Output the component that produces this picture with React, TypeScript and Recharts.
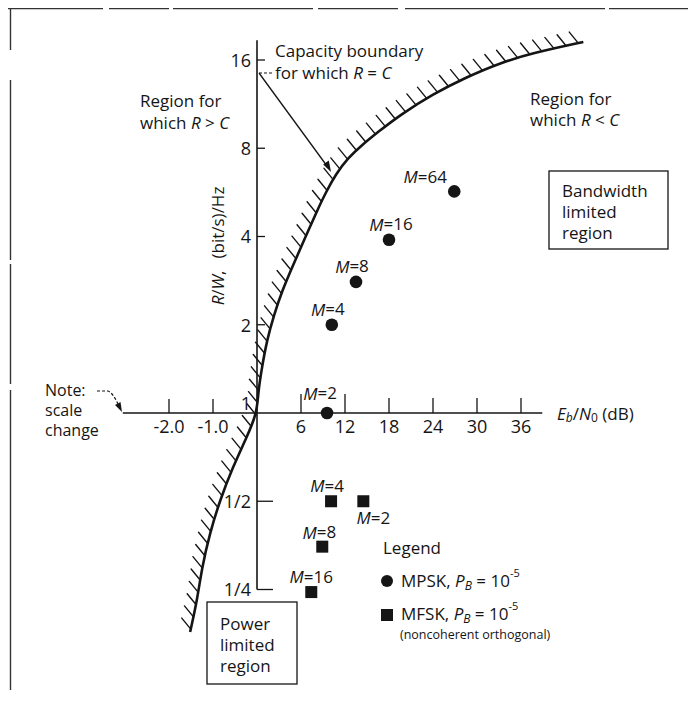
import React from 'react';
import {
  ComposedChart,
  XAxis,
  YAxis,
  Line,
  Scatter,
  ReferenceLine,
  ReferenceDot,
  Customized,
} from 'recharts';

const FONT = '"Open Sans", "Noto Sans", sans-serif';
const INK = '#151515';

// capacity boundary R = C (Eb/N0 in dB, R/W in bit/s/Hz)
const boundaryEbNo = [-1.52, -1.36, -1.25, -1.07, -0.84, -0.55, -0.23, 0, 0.14, 0.68, 1.36, 2.32, 3.41, 5.05, 6.55, 8.05, 9.41, 10.77, 12.41, 14.32, 16.5, 19.5, 24.0, 28.6, 33.1, 37.6, 44.5];
const boundaryRW = [0.179, 0.23, 0.298, 0.39, 0.505, 0.654, 0.828, 1, 1.17, 1.435, 1.774, 2.159, 2.607, 3.249, 3.953, 4.811, 5.674, 6.535, 7.411, 8.207, 9.089, 10.39, 12.25, 14.0, 15.63, 16.9, 18.43];

// MPSK, PB = 1e-5
const mpskM = [2, 4, 8, 16, 64];
const mpskEbNo = [9.55, 10.2, 13.5, 18.0, 26.9];
const mpskRW = [1, 2, 2.8, 3.9, 5.7];

// MFSK noncoherent orthogonal, PB = 1e-5
const mfskM = [2, 4, 8, 16];
const mfskEbNo = [14.5, 10.1, 8.9, 7.4];
const mfskRW = [0.5, 0.5, 0.35, 0.245];

const xTicksNeg = [-2.0, -1.0];
const xTicksPos = [6, 12, 18, 24, 30, 36];
const yTicks = [16, 8, 4, 2, 1, 0.5, 0.25];
const yTickLabels = ['16', '8', '4', '2', '1', '1/2', '1/4'];

// label placement next to each marker (px)
const mpskLabelOffset = [[-7, -20], [-4, -16], [-4, -16], [2, -16], [-29, -15]];
const mfskLabelOffset = [[10, 16], [-4, -16], [-3, -15], [0, -16]];

// scale change at 0 dB: one division = 1 dB on the left, 6 dB on the right
const toAxis = (db: number) => (db < 0 ? db * 6 : db);

const boundaryRows = boundaryEbNo.map((d, i) => ({ x: toAxis(d), y: boundaryRW[i] }));
const mpskRows = mpskEbNo.map((d, i) => ({ x: toAxis(d), y: mpskRW[i], m: mpskM[i] }));
const mfskRows = mfskEbNo.map((d, i) => ({ x: toAxis(d), y: mfskRW[i], m: mfskM[i] }));

const txt = { fontFamily: FONT, fill: INK } as const;

const collected: { x: number; y: number }[] = [];
const HATCH_STEP = 12.5;

function HatchDot(props: any) {
  const { cx, cy, index, points } = props;
  collected[index] = { x: cx, y: cy };
  if (index !== boundaryRows.length - 1) return <g key={`hd-${index}`} />;
  const pts: { x: number; y: number }[] = points && points.length ? points : collected;
  const marks: React.ReactNode[] = [];
  let t = 3;
  for (let i = 1; i < pts.length; i++) {
    const a = pts[i - 1];
    const b = pts[i];
    const seg = Math.hypot(b.x - a.x, b.y - a.y);
    while (t <= seg) {
      const x = a.x + ((b.x - a.x) * t) / seg;
      const y = a.y + ((b.y - a.y) * t) / seg;
      marks.push(<line key={marks.length} x1={x} y1={y} x2={x - 9} y2={y - 11} />);
      t += HATCH_STEP;
    }
    t -= seg;
  }
  return (
    <g key="hatches" stroke={INK} strokeWidth={1.4} strokeLinecap="round">
      {marks}
    </g>
  );
}

const mLabel = (m: number, dx: number, dy: number) => (p: any) => (
  <text x={p.cx + dx} y={p.cy + dy} textAnchor="middle" dominantBaseline="central" fontSize={17} {...txt}>
    <tspan fontStyle="italic">M</tspan>={m}
  </text>
);

const xTickShape = (label: string, h: number) => (p: any) => (
  <g>
    <line x1={p.cx} y1={p.cy} x2={p.cx} y2={p.cy - h} stroke={INK} strokeWidth={1.3} />
    <text x={p.cx} y={p.cy + 13} textAnchor="middle" dominantBaseline="central" fontSize={18} {...txt}>
      {label}
    </text>
  </g>
);

const yTickShape = (label: string, len: number, dy: number) => (p: any) => (
  <g>
    {len > 0 && <line x1={p.cx} y1={p.cy} x2={p.cx + len} y2={p.cy} stroke={INK} strokeWidth={1.3} />}
    <text x={p.cx - 6} y={p.cy + dy} textAnchor="end" dominantBaseline="central" fontSize={18} {...txt}>
      {label}
    </text>
  </g>
);

const Annotations = () => (
  <g transform="translate(-8 -8)">
    {/* scan frame */}
    <line x1={8} y1={8.5} x2={696} y2={8.5} stroke="#333" strokeWidth={1.4} strokeDasharray="95 6 60 4 140 5 80 7 200 4" />
    <line x1={10.5} y1={8} x2={10.5} y2={50} stroke="#333" strokeWidth={1.4} />
    <line x1={10.5} y1={80} x2={10.5} y2={698} stroke="#333" strokeWidth={1.4} strokeDasharray="180 4 120 6 300" />

    {/* capacity boundary callout */}
    <text x={275} y={50} dominantBaseline="central" fontSize={17} {...txt}>Capacity boundary</text>
    <text x={275} y={72} dominantBaseline="central" fontSize={17} {...txt}>
      for which <tspan fontStyle="italic">R</tspan> = <tspan fontStyle="italic">C</tspan>
    </text>
    <line x1={259} y1={73} x2={273} y2={73} stroke={INK} strokeWidth={1.2} strokeDasharray="3 2" />
    <line x1={259} y1={73} x2={327} y2={166} stroke={INK} strokeWidth={1.3} />
    <polygon points="331,172 323.2,164.6 328.8,160.6" fill={INK} />

    <text x={140} y={100} dominantBaseline="central" fontSize={17} {...txt}>Region for</text>
    <text x={140} y={122} dominantBaseline="central" fontSize={17} {...txt}>
      which <tspan fontStyle="italic">R</tspan> &gt; <tspan fontStyle="italic">C</tspan>
    </text>
    <text x={530} y={98} dominantBaseline="central" fontSize={17} {...txt}>Region for</text>
    <text x={530} y={119} dominantBaseline="central" fontSize={17} {...txt}>
      which <tspan fontStyle="italic">R</tspan> &lt; <tspan fontStyle="italic">C</tspan>
    </text>

    <rect x={549} y={171} width={119} height={78} fill="none" stroke={INK} strokeWidth={1.3} />
    <text x={562} y={190} dominantBaseline="central" fontSize={17} {...txt}>Bandwidth</text>
    <text x={562} y={211} dominantBaseline="central" fontSize={17} {...txt}>limited</text>
    <text x={562} y={232} dominantBaseline="central" fontSize={17} {...txt}>region</text>

    <rect x={207} y={602} width={90} height={82} fill="none" stroke={INK} strokeWidth={1.3} />
    <text x={220} y={623} dominantBaseline="central" fontSize={17} {...txt}>Power</text>
    <text x={220} y={644} dominantBaseline="central" fontSize={17} {...txt}>limited</text>
    <text x={220} y={665} dominantBaseline="central" fontSize={17} {...txt}>region</text>

    {/* scale-change note */}
    <text x={45} y={390} dominantBaseline="central" fontSize={16} {...txt}>Note:</text>
    <text x={45} y={410} dominantBaseline="central" fontSize={16} {...txt}>scale</text>
    <text x={45} y={430} dominantBaseline="central" fontSize={16} {...txt}>change</text>
    <path d="M97,391 L108,391 Q113,393 118,404" fill="none" stroke={INK} strokeWidth={1.2} strokeDasharray="3 2" />
    <polygon points="122,412 115,405 120.5,402" fill={INK} />

    {/* axis titles */}
    <text
      transform="translate(217 246) rotate(-90)"
      textAnchor="middle"
      dominantBaseline="central"
      fontSize={17}
      {...txt}
    >
      <tspan fontStyle="italic">R</tspan>/<tspan fontStyle="italic">W</tspan>,<tspan dx={12}>(bit/s)/Hz</tspan>
    </text>
    <text x={557} y={413} dominantBaseline="central" fontSize={17} {...txt}>
      <tspan fontStyle="italic">E</tspan>
      <tspan fontStyle="italic" fontSize={12} dy={4}>b</tspan>
      <tspan dy={-4}>/</tspan>
      <tspan fontStyle="italic">N</tspan>
      <tspan fontSize={12} dy={4}>0</tspan>
      <tspan dy={-4}> (dB)</tspan>
    </text>

    {/* legend */}
    <text x={383} y={547} dominantBaseline="central" fontSize={17} {...txt}>Legend</text>
    <circle cx={387} cy={581} r={6} fill={INK} />
    <text x={401} y={580} dominantBaseline="central" fontSize={17} {...txt}>
      MPSK, <tspan fontStyle="italic">P</tspan>
      <tspan fontStyle="italic" fontSize={12} dy={5}>B</tspan>
      <tspan dy={-5}> = 10</tspan>
      <tspan fontSize={11} dy={-8}>-5</tspan>
    </text>
    <rect x={381} y={609} width={12} height={12} fill={INK} />
    <text x={401} y={613} dominantBaseline="central" fontSize={17} {...txt}>
      MFSK, <tspan fontStyle="italic">P</tspan>
      <tspan fontStyle="italic" fontSize={12} dy={5}>B</tspan>
      <tspan dy={-5}> = 10</tspan>
      <tspan fontSize={11} dy={-8}>-5</tspan>
    </text>
    <text x={400} y={634} dominantBaseline="central" fontSize={12.5} {...txt}>(noncoherent orthogonal)</text>
  </g>
);

export default function App() {
  return (
    <div style={{ width: 680, height: 690, background: '#fff' }}>
      <ComposedChart
        width={680}
        height={690}
        margin={{ top: 7.875, right: 27.667, bottom: 20.25, left: 7 }}
      >
        <XAxis type="number" dataKey="x" domain={[-33, 55]} allowDataOverflow hide />
        <YAxis type="number" dataKey="y" scale="log" domain={[0.125, 22.627]} allowDataOverflow hide />

        {/* axes drawn through the origin */}
        <ReferenceLine segment={[{ x: toAxis(-3.05), y: 1 }, { x: 38.9, y: 1 }]} stroke={INK} strokeWidth={1.6} />
        <ReferenceLine segment={[{ x: 0, y: 0.25 }, { x: 0, y: 18.7 }]} stroke={INK} strokeWidth={1.6} />

        {xTicksNeg.map((v) => (
          <ReferenceDot key={`xn${v}`} x={toAxis(v)} y={1} r={0} ifOverflow="visible" shape={xTickShape(v.toFixed(1), 14)} />
        ))}
        {xTicksPos.map((v) => (
          <ReferenceDot key={`xp${v}`} x={toAxis(v)} y={1} r={0} ifOverflow="visible" shape={xTickShape(String(v), v <= 12 ? 19 : 15)} />
        ))}
        {yTicks.map((v, i) => (
          <ReferenceDot
            key={`y${v}`}
            x={0}
            y={v}
            r={0}
            ifOverflow="visible"
            shape={yTickShape(yTickLabels[i], v === 1 ? 0 : v < 1 ? 16 : 8, v === 1 ? -10 : 0)}
          />
        ))}

        <Line
          data={boundaryRows}
          dataKey="y"
          type="basis"
          stroke={INK}
          strokeWidth={2.6}
          dot={HatchDot}
          activeDot={false}
          isAnimationActive={false}
        />

        <Scatter
          data={mpskRows}
          fill={INK}
          shape={(p: any) => <circle cx={p.cx} cy={p.cy} r={6.3} fill={INK} />}
          isAnimationActive={false}
        />
        <Scatter
          data={mfskRows}
          fill={INK}
          shape={(p: any) => <rect x={p.cx - 6} y={p.cy - 6} width={12} height={12} fill={INK} />}
          isAnimationActive={false}
        />

        {mpskRows.map((r, i) => (
          <ReferenceDot key={`ml${i}`} x={r.x} y={r.y} r={0} ifOverflow="visible" shape={mLabel(r.m, mpskLabelOffset[i][0], mpskLabelOffset[i][1])} />
        ))}
        {mfskRows.map((r, i) => (
          <ReferenceDot key={`fl${i}`} x={r.x} y={r.y} r={0} ifOverflow="visible" shape={mLabel(r.m, mfskLabelOffset[i][0], mfskLabelOffset[i][1])} />
        ))}

        <Customized component={<Annotations />} />
      </ComposedChart>
    </div>
  );
}
